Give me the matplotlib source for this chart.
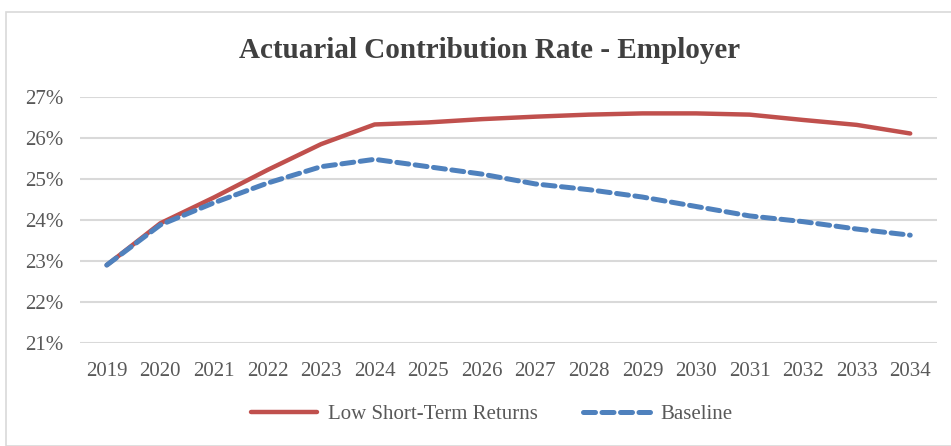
import matplotlib.pyplot as plt
from matplotlib.patches import Rectangle
from matplotlib.ticker import FuncFormatter

years = list(range(2019, 2035))
low_returns = [22.9, 23.92, 24.55, 25.22, 25.85, 26.33, 26.38, 26.46, 26.52, 26.57,
               26.6, 26.6, 26.57, 26.44, 26.32, 26.11]
baseline = [22.9, 23.88, 24.42, 24.9, 25.3, 25.48, 25.3, 25.12, 24.88, 24.74,
            24.56, 24.33, 24.1, 23.96, 23.78, 23.63]

plt.rcParams['font.family'] = ['Liberation Serif', 'DejaVu Serif']

fig = plt.figure(figsize=(9.51, 4.46), dpi=100)
ax = fig.add_axes([80 / 951, 1 - 343 / 446, (937 - 80) / 951, (343 - 97) / 446])

# chart frame
fig.patches.append(Rectangle((6 / 951, 0.0), 1.0, 1 - 12 / 446, transform=fig.transFigure,
                             fill=False, edgecolor='#d9d9d9', linewidth=1.2))

ax.plot(years, low_returns, color='#c0504d', linewidth=3.2, solid_capstyle='round',
        label='Low Short-Term Returns')
ax.plot(years, baseline, color='#4f81bd', linewidth=3.6, linestyle=(0, (2.4, 1.3)),
        dash_capstyle='round', label='Baseline')

ax.set_ylim(21, 27)
ax.set_xlim(2018.5, 2034.5)
ax.set_yticks(range(21, 28))
ax.set_xticks(years)
ax.yaxis.set_major_formatter(FuncFormatter(lambda v, p: f'{v:.0f}%'))
ax.grid(axis='y', color='#d9d9d9', linewidth=1.5)
ax.set_axisbelow(True)
for s in ax.spines.values():
    s.set_visible(False)
ax.tick_params(length=0, labelsize=15, colors='#595959')
ax.tick_params(axis='x', pad=14)
ax.tick_params(axis='y', pad=12)

fig.text(0.515, 1 - 51 / 446, 'Actuarial Contribution Rate - Employer', ha='center', va='center',
         fontsize=21, fontweight='bold', color='#404040')

fig.legend(loc='center', bbox_to_anchor=(0.517, 1 - 414 / 446), ncol=2, frameon=False,
           fontsize=15, labelcolor='#595959', handlelength=3.2, columnspacing=2.2,
           handletextpad=0.5)

fig.savefig('out.png', dpi=100)
